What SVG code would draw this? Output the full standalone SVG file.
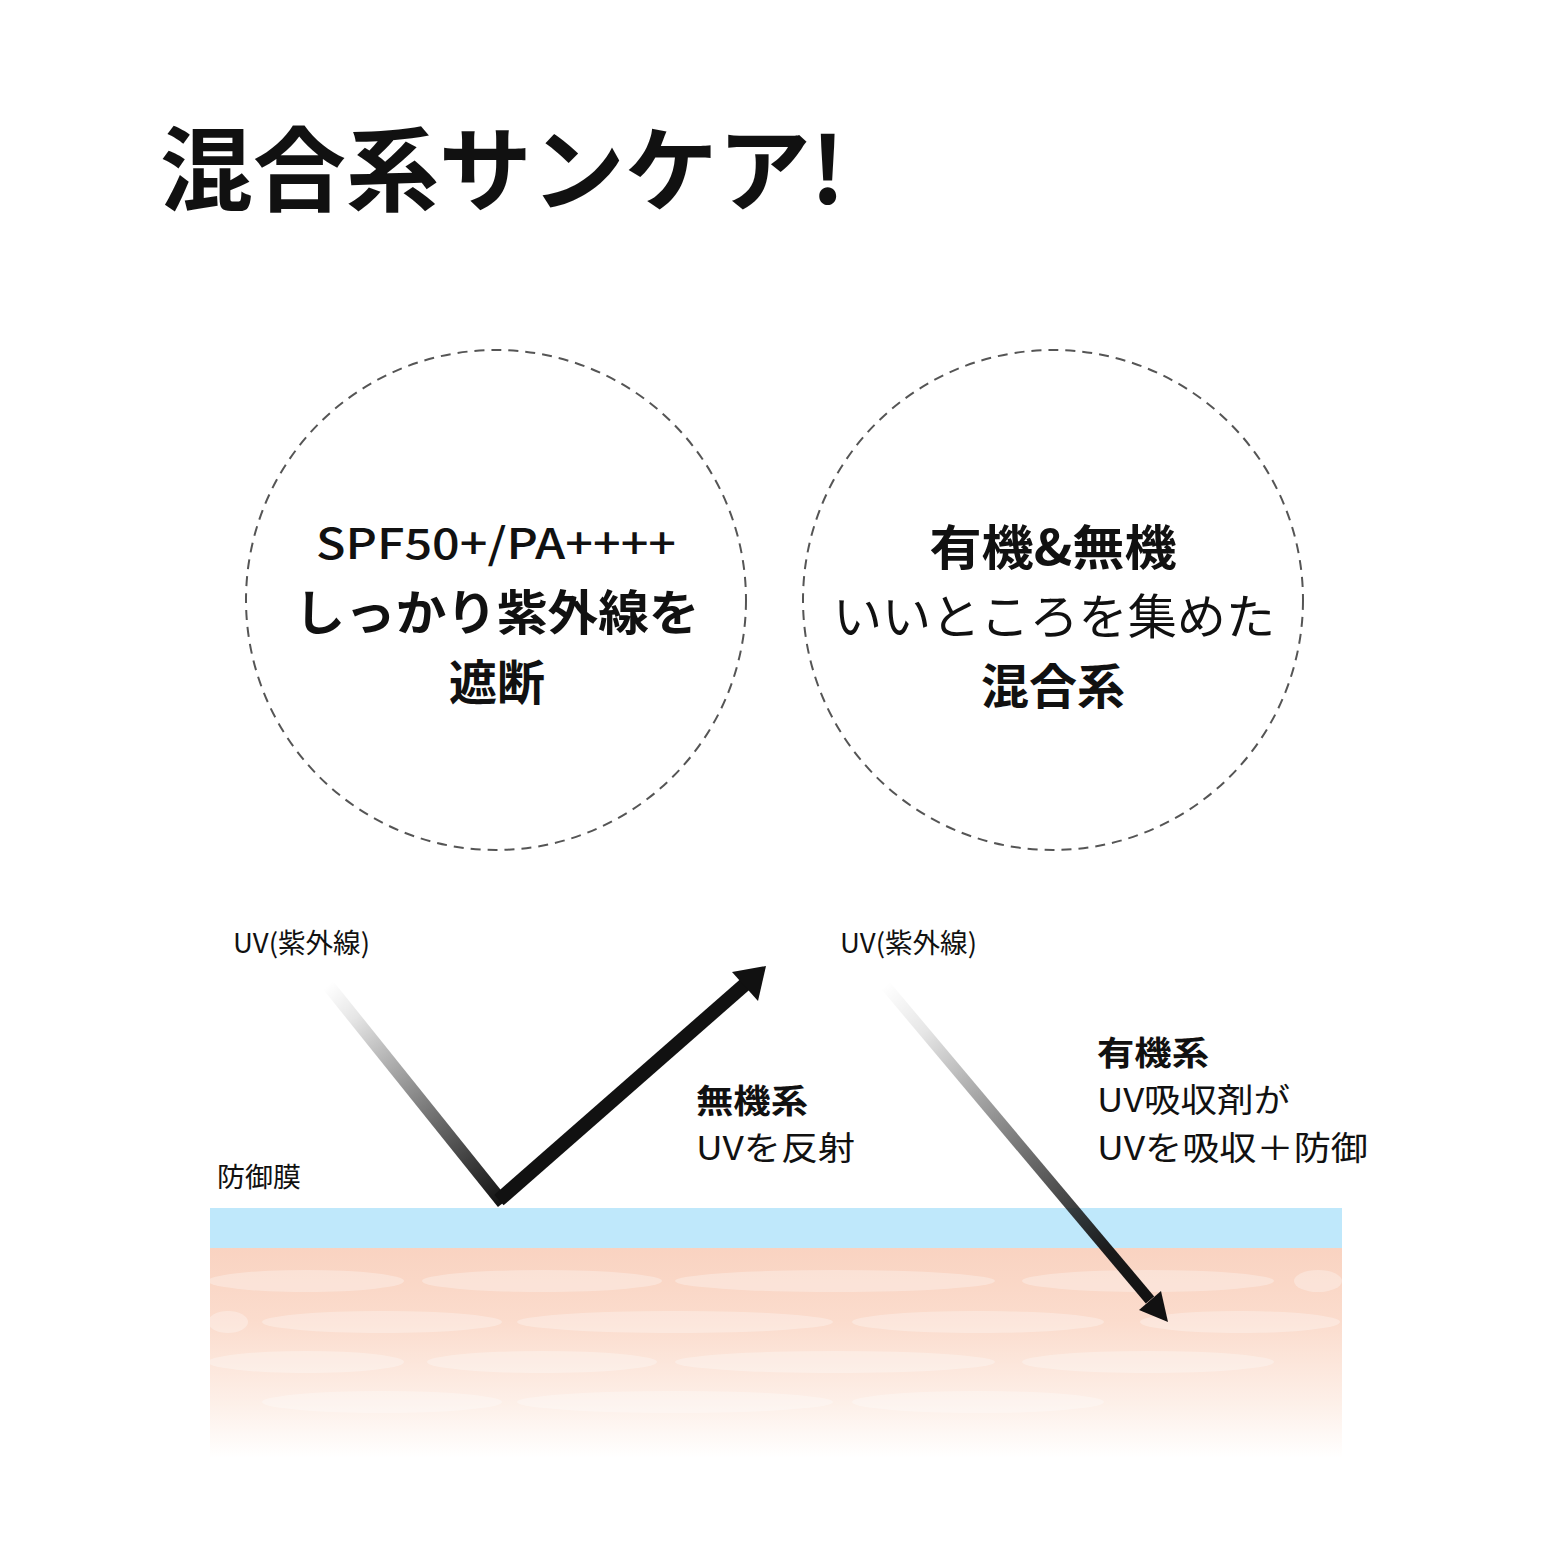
<svg xmlns="http://www.w3.org/2000/svg" width="1563" height="1563" viewBox="0 0 1563 1563">
<defs>
<style>
text{font-family:"Noto Sans CJK JP","Noto Sans",sans-serif;fill:#111}
.b{font-weight:700}
.r{font-weight:400}
.circ{fill:none;stroke:#555;stroke-width:2;stroke-dasharray:10 7}
.sm{font-size:27px;font-weight:400}
.lb{font-size:33px}
</style>
<linearGradient id="skin" x1="0" y1="0" x2="0" y2="1">
<stop offset="0" stop-color="#F9D3C1"/>
<stop offset="0.35" stop-color="#FBDCCD"/>
<stop offset="0.75" stop-color="#FDF0E9"/>
<stop offset="1" stop-color="#FFFFFF"/>
</linearGradient>
<linearGradient id="g1" gradientUnits="userSpaceOnUse" x1="328" y1="985" x2="503" y2="1203">
<stop offset="0" stop-color="#000" stop-opacity="0"/>
<stop offset="0.15" stop-color="#000" stop-opacity="0.1"/>
<stop offset="1" stop-color="#111" stop-opacity="1"/>
</linearGradient>
<linearGradient id="g2" gradientUnits="userSpaceOnUse" x1="885" y1="985" x2="1150" y2="1300">
<stop offset="0" stop-color="#000" stop-opacity="0"/>
<stop offset="0.15" stop-color="#000" stop-opacity="0.1"/>
<stop offset="0.85" stop-color="#1a1a1a" stop-opacity="1"/>
<stop offset="1" stop-color="#111" stop-opacity="1"/>
</linearGradient>
</defs>
<rect width="1563" height="1563" fill="#fff"/>

<g id="title">
<text class="b" x="160" y="204" font-size="92" font-weight="900" textLength="685" lengthAdjust="spacingAndGlyphs">混合系サンケア!</text>
</g>

<g id="circle-left">
<circle class="circ" cx="496" cy="600" r="250"/>
<text x="496" y="559" font-size="42" font-weight="500" text-anchor="middle" textLength="360" lengthAdjust="spacingAndGlyphs">SPF50+/PA++++</text>
<text class="b" x="497" y="630" font-size="48" text-anchor="middle" textLength="405" lengthAdjust="spacingAndGlyphs">しっかり紫外線を</text>
<text class="b" x="497" y="700" font-size="48" text-anchor="middle">遮断</text>
</g>

<g id="circle-right">
<circle class="circ" cx="1053" cy="600" r="250"/>
<text class="b" x="1053" y="565" font-size="48" text-anchor="middle" textLength="247" lengthAdjust="spacingAndGlyphs">有機&amp;無機</text>
<text class="r" x="1054" y="634" font-size="48" text-anchor="middle" textLength="442" lengthAdjust="spacingAndGlyphs">いいところを集めた</text>
<text class="b" x="1053" y="704" font-size="48" text-anchor="middle">混合系</text>
</g>

<g id="skin">
<rect x="210" y="1208" width="1132" height="40" fill="#BFE8FB"/>
<rect x="210" y="1248" width="1132" height="210" fill="url(#skin)"/>
<g fill="#fff" opacity="0.3">
<ellipse cx="306" cy="1281" rx="98" ry="11"/>
<ellipse cx="542" cy="1281" rx="120" ry="11"/>
<ellipse cx="835" cy="1281" rx="160" ry="11"/>
<ellipse cx="1148" cy="1281" rx="126" ry="11"/>
<ellipse cx="1318" cy="1281" rx="24" ry="11"/>
<ellipse cx="228" cy="1322" rx="20" ry="11"/>
<ellipse cx="382" cy="1322" rx="120" ry="11"/>
<ellipse cx="675" cy="1322" rx="158" ry="11"/>
<ellipse cx="978" cy="1322" rx="126" ry="11"/>
<ellipse cx="1240" cy="1322" rx="100" ry="11"/>
<ellipse cx="306" cy="1362" rx="98" ry="11"/>
<ellipse cx="542" cy="1362" rx="115" ry="11"/>
<ellipse cx="835" cy="1362" rx="160" ry="11"/>
<ellipse cx="1148" cy="1362" rx="126" ry="11"/>
<ellipse cx="382" cy="1402" rx="120" ry="11"/>
<ellipse cx="675" cy="1402" rx="158" ry="11"/>
<ellipse cx="978" cy="1402" rx="126" ry="11"/>
</g>
</g>

<g id="labels">
<text class="sm" x="233" y="953" textLength="137" lengthAdjust="spacingAndGlyphs">UV(紫外線)</text>
<text class="sm" x="840" y="953" textLength="137" lengthAdjust="spacingAndGlyphs">UV(紫外線)</text>
<text class="sm" x="217" y="1187" textLength="84" lengthAdjust="spacingAndGlyphs">防御膜</text>
<text class="lb b" x="696" y="1113" textLength="112" lengthAdjust="spacingAndGlyphs">無機系</text>
<text class="lb r" x="696" y="1160" textLength="159" lengthAdjust="spacingAndGlyphs">UVを反射</text>
<text class="lb b" x="1097" y="1065" textLength="112" lengthAdjust="spacingAndGlyphs">有機系</text>
<text class="lb r" x="1097" y="1112" textLength="193" lengthAdjust="spacingAndGlyphs">UV吸収剤が</text>
<text class="lb r" x="1097" y="1160" textLength="271" lengthAdjust="spacingAndGlyphs">UVを吸収＋防御</text>
</g>

<g id="connectors">
<path d="M328 985 L503 1203" stroke="url(#g1)" stroke-width="13" fill="none"/>
<path d="M499 1200 L750 980" stroke="#111" stroke-width="14" fill="none"/>
<polygon points="766,966 732,972 758,1001" fill="#111"/>
<path d="M885 985 L1150 1300" stroke="url(#g2)" stroke-width="11" fill="none"/>
<polygon points="1168,1322 1139,1310 1161,1291" fill="#111"/>
</g>
</svg>
